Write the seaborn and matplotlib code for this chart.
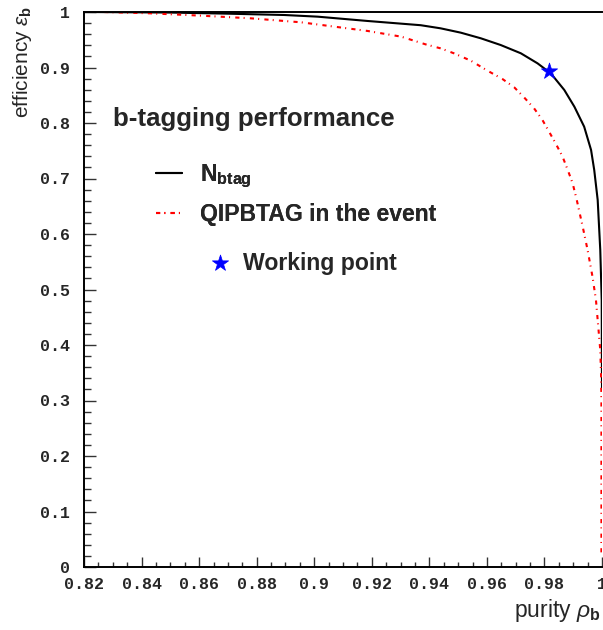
import numpy as np
import pandas as pd
import matplotlib
matplotlib.use("Agg")
import matplotlib.pyplot as plt
from matplotlib.ticker import MultipleLocator, FuncFormatter
import seaborn as sns

# ---- data ----
nbtag_purity = [0.820, 0.850, 0.870, 0.8896, 0.9012, 0.9186, 0.9370, 0.9439, 0.9509,
                0.9579, 0.9648, 0.9718, 0.9776, 0.9822, 0.9869, 0.9904, 0.9938,
                0.9962, 0.9973, 0.9985, 0.9994, 0.9999, 0.99995, 1.0]
nbtag_eff = [1.000, 0.999, 0.997, 0.9946, 0.9916, 0.9838, 0.9762, 0.9706, 0.9628,
             0.9526, 0.9405, 0.9256, 0.9075, 0.8895, 0.8595, 0.8294, 0.7934,
             0.7514, 0.7153, 0.6613, 0.571, 0.481, 0.40, 0.32]

qip_purity = [0.827, 0.8432, 0.8606, 0.878, 0.8955, 0.907, 0.9186, 0.9302, 0.9387,
              0.9439, 0.9486, 0.9544, 0.9602, 0.9654, 0.9695, 0.9729, 0.9764,
              0.9793, 0.9816, 0.9840, 0.9863, 0.9881, 0.9898, 0.9912, 0.9933,
              0.9950, 0.9967, 0.9979, 0.9987, 0.9994, 0.9997, 0.9998, 0.9998]
qip_eff = [1.000, 0.9976, 0.9934, 0.9886, 0.9814, 0.9736, 0.9658, 0.9556, 0.9417,
           0.9345, 0.9255, 0.9123, 0.8943, 0.8793, 0.8643, 0.8463, 0.8264,
           0.8054, 0.7844, 0.7622, 0.7393, 0.7153, 0.6913, 0.662, 0.613,
           0.571, 0.523, 0.481, 0.433, 0.391, 0.343, 0.30, 0.025]

wp_purity = [0.9815]
wp_eff = [0.894]

labels = ["N_btag", "QIPBTAG in the event"]
xticks = [0.82, 0.84, 0.86, 0.88, 0.9, 0.92, 0.94, 0.96, 0.98, 1.0]
yticks = [0, 0.1, 0.2, 0.3, 0.4, 0.5, 0.6, 0.7, 0.8, 0.9, 1.0]

df = pd.concat([
    pd.DataFrame({"purity": nbtag_purity, "eff": nbtag_eff, "curve": labels[0]}),
    pd.DataFrame({"purity": qip_purity, "eff": qip_eff, "curve": labels[1]}),
], ignore_index=True)
wp = pd.DataFrame({"purity": wp_purity, "eff": wp_eff})

sns.set_style("ticks")
plt.rcParams["font.family"] = ["Liberation Sans", "DejaVu Sans"]
plt.rcParams["mathtext.fontset"] = "custom"
plt.rcParams["mathtext.rm"] = "Liberation Sans"
plt.rcParams["mathtext.it"] = "Liberation Sans:italic"
plt.rcParams["mathtext.bf"] = "Liberation Sans:bold"

W, H = 603, 630
fig = plt.figure(figsize=(W / 100, H / 100), dpi=100)
ax = fig.add_axes([84 / W, 1 - 567 / H, (602 - 84) / W, (567 - 12) / H])

sns.lineplot(data=df, x="purity", y="eff", hue="curve", style="curve",
             palette={labels[0]: "black", labels[1]: "#ff0000"},
             dashes={labels[0]: "", labels[1]: (2, 2, 0.5, 2.5)},
             sort=False, estimator=None, linewidth=1.5, legend=False, ax=ax)
for ln in ax.get_lines():
    ln.set_solid_joinstyle("round")
    ln.set_dash_joinstyle("round")
sns.scatterplot(data=wp, x="purity", y="eff", marker="*", s=150,
                color="#0000ff", edgecolor="#0000ff", linewidth=0.5,
                legend=False, ax=ax, zorder=5)

ax.set_xlim(0.82, 1.0)
ax.set_ylim(0, 1.0)
ax.set_xticks(xticks)
ax.set_yticks(yticks)
ax.xaxis.set_minor_locator(MultipleLocator(0.005))
ax.yaxis.set_minor_locator(MultipleLocator(0.02))
fmt = FuncFormatter(lambda v, p: ("%g" % round(v, 4)))
ax.xaxis.set_major_formatter(fmt)
ax.yaxis.set_major_formatter(fmt)
ax.set_xlabel("")
ax.set_ylabel("")

ax.tick_params(axis="both", which="both", direction="in", color="#333333",
               top=False, right=False)
ax.tick_params(axis="y", which="major", length=8.6, width=1, pad=10)
ax.tick_params(axis="y", which="minor", length=5, width=1)
ax.tick_params(axis="x", which="major", length=7.2, width=1, pad=7)
ax.tick_params(axis="x", which="minor", length=3.6, width=1)
for lab in ax.get_xticklabels() + ax.get_yticklabels():
    lab.set_fontfamily("Liberation Mono")
    lab.set_fontweight("bold")
    lab.set_fontsize(12)

for s in ["left", "bottom", "top"]:
    ax.spines[s].set_linewidth(1.4)
    ax.spines[s].set_color("black")
ax.spines["right"].set_visible(False)

# axis titles
fig.text(22 / W, 1 - 6 / H, r"efficiency $\varepsilon_{\mathbf{b}}$", rotation=90,
         ha="center", va="top", fontsize=15)
fig.text(601 / W, 1 - 617 / H, r"purity $\rho_{\mathbf{b}}$", ha="right",
         va="baseline", fontsize=16.5)

# in-plot title
fig.text(113 / W, 1 - 126 / H, "b-tagging performance", ha="left",
         va="baseline", fontsize=18.6, fontweight="bold")

# legends
lines = ax.get_lines()
star = ax.collections[0]
fs = 16.6
leg1 = fig.legend([lines[0]], [r"$\mathbf{N_{btag}}$"], loc="center left",
                  bbox_to_anchor=(156 / W, 1 - 176 / H), frameon=False,
                  borderpad=0, borderaxespad=0, handlelength=1.14,
                  handletextpad=0.79, prop={"size": fs, "weight": "bold"})
leg2 = fig.legend([lines[1]], [labels[1]], loc="center left",
                  bbox_to_anchor=(156 / W, 1 - 215 / H), frameon=False,
                  borderpad=0, borderaxespad=0, handlelength=1.14,
                  handletextpad=0.79, prop={"size": fs, "weight": "bold"})
leg3 = fig.legend([star], ["Working point"], loc="center left",
                  bbox_to_anchor=(208.6 / W, 1 - 263 / H), frameon=False,
                  borderpad=0, borderaxespad=0, handlelength=1.0,
                  handletextpad=0.51, scatterpoints=1,
                  prop={"size": fs, "weight": "bold"})
fig.add_artist(leg1)
fig.add_artist(leg2)

fig.savefig("out.png", dpi=100)
